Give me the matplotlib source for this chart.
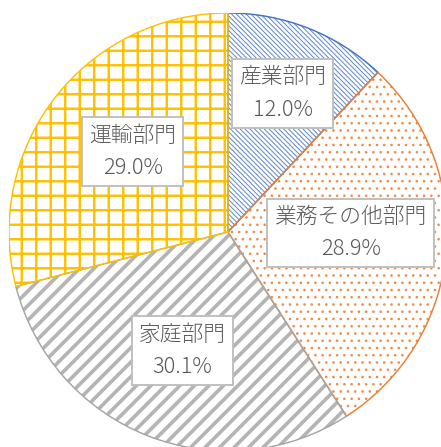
import numpy as np
import matplotlib.pyplot as plt
from matplotlib.patches import Wedge

plt.rcParams['font.family'] = ['Noto Sans CJK JP', 'DejaVu Sans']

# データ（部門別の割合）
sectors = ['産業部門', '業務その他部門', '家庭部門', '運輸部門']
shares = [12.0, 28.9, 30.1, 29.0]

# 見た目
colors = ['#4472C4', '#ED7D31', '#A5A5A5', '#FFC000']
hatch_colors = ['#5B84CE', '#F08A45', '#B4B4B4', '#FFC000']
hatches = ['\\' * 6, '..', '//', '+']
hatch_lw = [0.8, 0.9, 3.0, 2.0]
label_dist = [0.68, 0.56, 0.58, 0.57]
label_turn = [0, 4.7, 0.5, -2.3]

DPI = 87
W, H = 441, 447
fig = plt.figure(figsize=(W / DPI, H / DPI), dpi=DPI)
cx, cy, r = 228, 232, 219
ax = fig.add_axes([(cx - r) / W, (H - cy - r) / H, 2 * r / W, 2 * r / H])

wedges, _ = ax.pie(shares, startangle=90, counterclock=False, radius=1,
                   wedgeprops=dict(facecolor='white', linewidth=0))
for w, c, h, lw in zip(wedges, hatch_colors, hatches, hatch_lw):
    w.set_edgecolor(c)
    w.set_linewidth(0)
    w.set_hatch(h)
    if hasattr(w, 'set_hatch_linewidth'):
        w.set_hatch_linewidth(lw)

# 外枠と境界線は別に重ねる
for w, c in zip(wedges, colors):
    ax.add_patch(Wedge(w.center, w.r, w.theta1, w.theta2,
                       fill=False, ec=c, lw=1.2))

for w, name, v, d, t in zip(wedges, sectors, shares, label_dist, label_turn):
    th = np.radians((w.theta1 + w.theta2) / 2 + t)
    ax.text(d * np.cos(th), d * np.sin(th), f'{name}\n{v:.1f}%',
            ha='center', va='center', multialignment='center',
            fontsize=18, fontweight='light', color='#595959', linespacing=1.6,
            bbox=dict(boxstyle='square,pad=0.33', fc='white', ec='#BFBFBF', lw=1.6))

ax.set_xlim(-1, 1)
ax.set_ylim(-1, 1)
ax.set_aspect('auto')
ax.axis('off')

fig.savefig('out.png', dpi=DPI)
